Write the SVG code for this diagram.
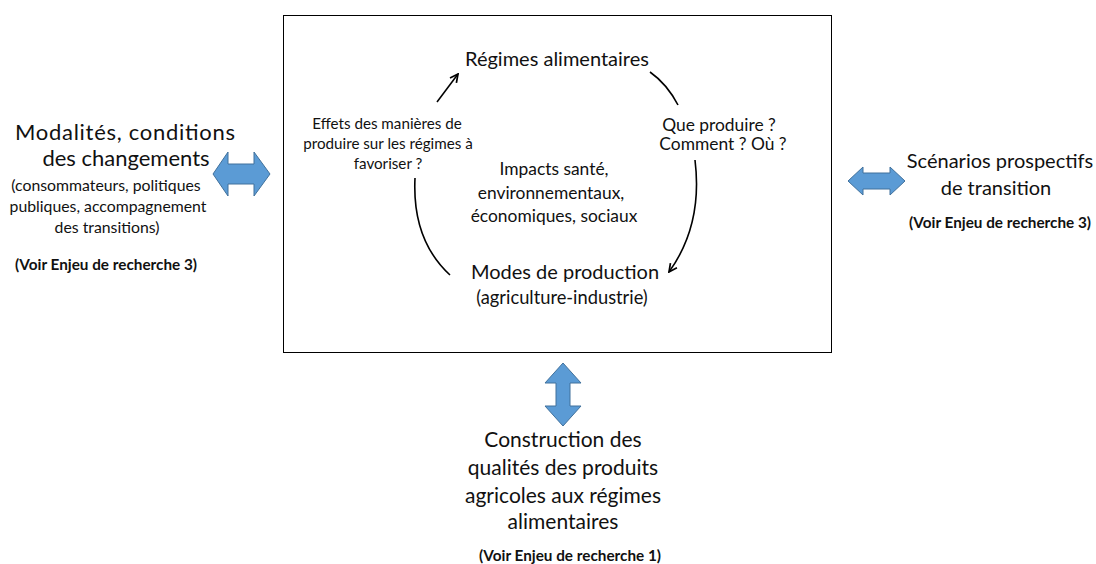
<svg xmlns="http://www.w3.org/2000/svg" width="1096" height="564" viewBox="0 0 1096 564">
<defs>
<style>
text{font-family:Lato,"Liberation Sans",sans-serif;fill:#111;text-anchor:middle}
.t20{font-size:20px}
.t21{font-size:21px}
.t22{font-size:22px}
.s15{font-size:15.2px}
.s16{font-size:15.8px}
.s17{font-size:17.4px}
.s18{font-size:18.3px}
.b{font-size:15.3px;font-weight:bold}
.blk{fill:#5B9BD5;stroke:#41719C;stroke-width:1}
.cur{fill:none;stroke:#000;stroke-width:1.6}
</style>
<marker id="ah" viewBox="0 0 10 10" refX="9" refY="5" markerWidth="10" markerHeight="10" markerUnits="userSpaceOnUse" orient="auto">
<path d="M1,1 L9,5 L1,9" fill="none" stroke="#000" stroke-width="1.7"/>
</marker>
</defs>
<rect width="1096" height="564" fill="#fff"/>
<g id="frame"><rect x="283.5" y="15.5" width="548" height="337" fill="#fff" stroke="#000" stroke-width="1"/></g>
<g id="regimes"><text class="t20" x="557" y="66">Régimes alimentaires</text></g>
<g id="effets"><text class="s15" x="387" y="129">Effets des manières de</text><text class="s15" x="388" y="149">produire sur les régimes à</text><text class="s15" x="388" y="169">favoriser ?</text></g>
<g id="que"><text class="s17" x="719" y="131">Que produire ?</text><text class="s17" x="723" y="150">Comment ? Où ?</text></g>
<g id="impacts"><text class="s17" x="554" y="175">Impacts santé,</text><text class="s17" x="551" y="199">environnementaux,</text><text class="s17" x="554" y="222">économiques,  sociaux</text></g>
<g id="modes"><text class="t20" x="565" y="279">Modes de production</text><text class="s18" x="562" y="304">(agriculture-industrie)</text></g>
<g id="modalites"><text class="t22" x="125" y="140" textLength="220" lengthAdjust="spacing">Modalités, conditions</text><text class="t22" x="126" y="166">des changements</text><text class="s16" x="106" y="191">(consommateurs, politiques</text><text class="s16" x="108" y="212">publiques, accompagnement</text><text class="s16" x="107" y="233">des transitions)</text><text class="b" x="106" y="270">(Voir Enjeu de recherche 3)</text></g>
<g id="scenarios"><text class="t20" x="1000" y="168">Scénarios prospectifs</text><text class="t20" x="996" y="195">de transition</text><text class="b" x="1000" y="228">(Voir Enjeu de recherche 3)</text></g>
<g id="construction"><text class="t21" x="563" y="447">Construction des</text><text class="t21" x="563" y="475">qualités des produits</text><text class="t21" x="563" y="503">agricoles aux régimes</text><text class="t21" x="563" y="529">alimentaires</text><text class="b" x="570" y="561">(Voir Enjeu de recherche 1)</text></g>
<g id="connectors">
<path class="cur" d="M437,102 L458,74" marker-end="url(#ah)"/>
<path class="cur" d="M650,72 Q667,84 678,105"/>
<path class="cur" d="M695,160 Q703,225 669,272" marker-end="url(#ah)"/>
<path class="cur" d="M415,178 Q412,240 450,275"/>
<path class="blk" d="M213,174 L228,152 L228,164 L254,164 L254,152 L270,174 L254,196 L254,184 L228,184 L228,196 Z"/>
<path class="blk" d="M848,181 L863,167 L863,173 L890,173 L890,167 L905,181 L890,195 L890,189 L863,189 L863,195 Z"/>
<path class="blk" d="M563,363 L581,383 L570,383 L570,406 L581,406 L563,426 L545,406 L556,406 L556,383 L545,383 Z"/>
</g>
</svg>
